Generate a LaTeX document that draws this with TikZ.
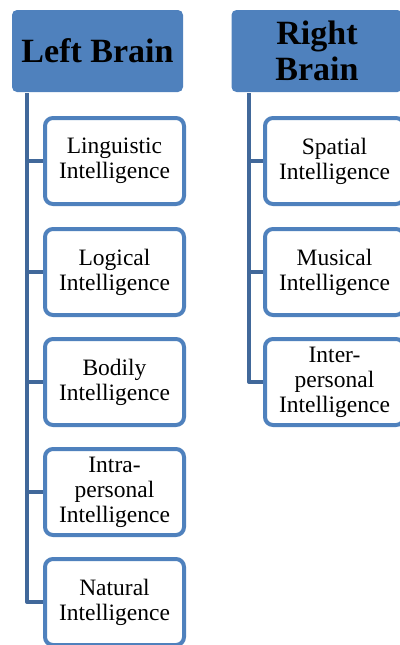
\documentclass[tikz,border=0pt]{standalone}
\usepackage{fontspec}
\setmainfont{Liberation Serif}
\definecolor{hdblue}{HTML}{4F81BD}
\definecolor{lnblue}{HTML}{41689A}
\tikzset{
  head/.style= {fill=hdblue, rounded corners=5, minimum width=171, minimum height=82,
                align=center, font=\bfseries\fontsize{34}{36}\selectfont},
  item/.style= {draw=hdblue, line width=4, fill=white, rounded corners=8,
                minimum width=139, minimum height=86, align=center,
                font=\fontsize{23.5}{25}\selectfont},
  conn/.style= {draw=lnblue, line width=4, line join=round},
}

\begin{document}
\begin{tikzpicture}[x=1pt, y=-1pt]
  \useasboundingbox (0,0) rectangle (399,645);
  \node [head] (lb) at (97.5,51) {Left Brain} ;
  \node [head] (rb) at (317,51) {Right\\Brain} ;
  \coordinate (lroot) at (27,93) ;
  \coordinate (rroot) at (249,93) ;

  \node [item] (ling) at (114.5,161) {Linguistic\\Intelligence} ;
  \node [item] (logi) at (114.5,272) {Logical\\Intelligence} ;
  \node [item] (body) at (114.5,382) {Bodily\\Intelligence} ;
  \node [item] (intra) at (114.5,492) {Intra-\\personal\\Intelligence} ;
  \node [item] (natu) at (114.5,602) {Natural\\Intelligence} ;

  \node [item] (spat) at (334.5,161) {Spatial\\Intelligence} ;
  \node [item] (musi) at (334.5,272) {Musical\\Intelligence} ;
  \node [item] (inter) at (334.5,382) {Inter-\\personal\\Intelligence} ;

  \foreach \n in {ling, logi, body, intra, natu} {
    \draw [conn] (lroot) |- (\n.west) ;
  }
  \foreach \n in {spat, musi, inter} {
    \draw [conn] (rroot) |- (\n.west) ;
  }
\end{tikzpicture}
\end{document}
